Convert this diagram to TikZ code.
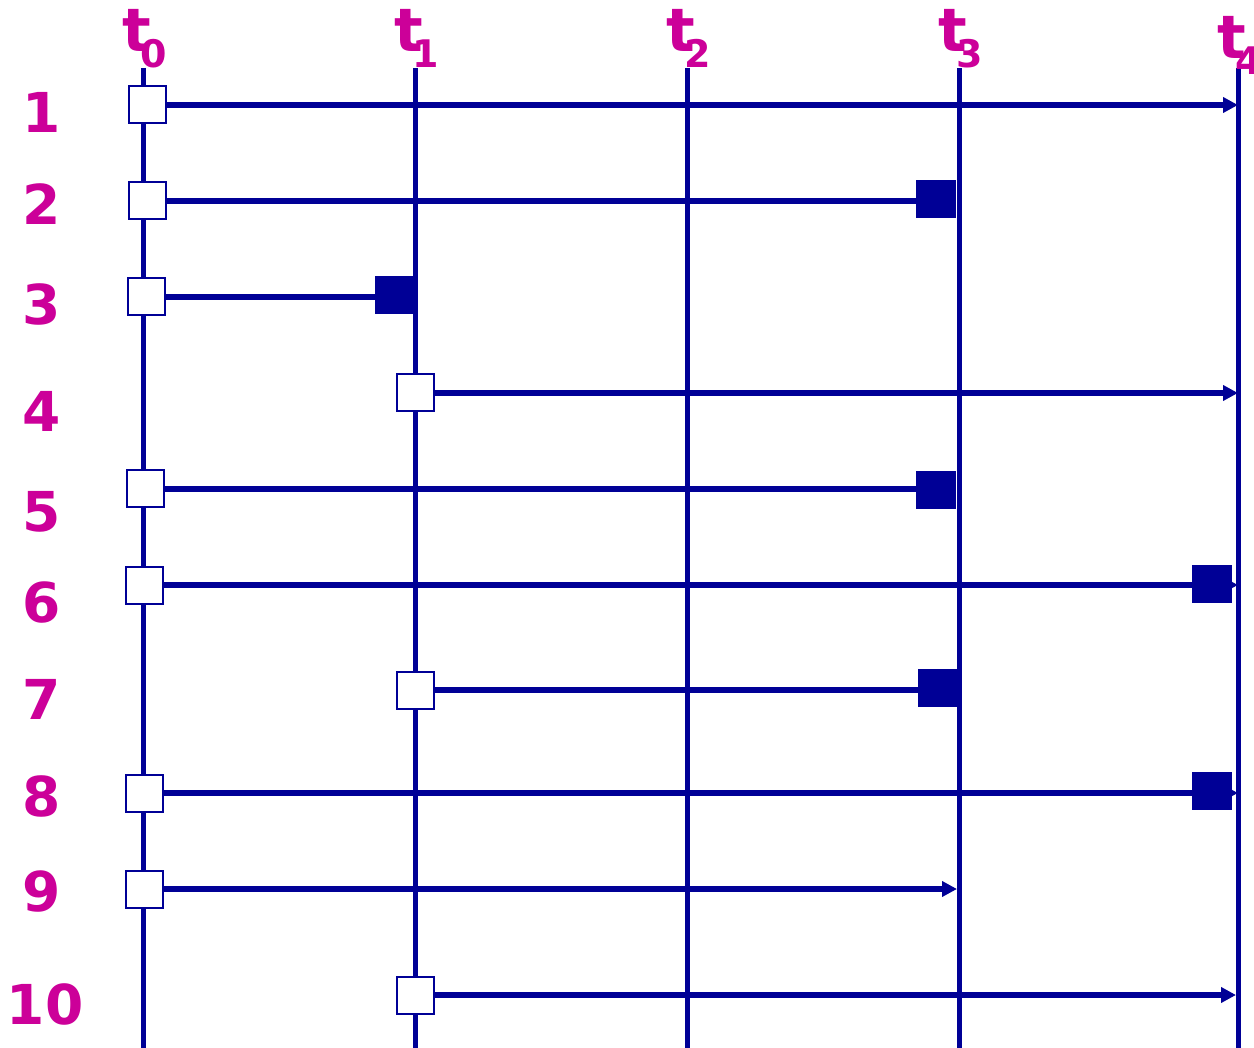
\documentclass[tikz,border=0pt]{standalone}
\usepackage{fontspec}
\setmainfont{DejaVu Sans}
\usetikzlibrary{arrows.meta}
\definecolor{navy}{RGB}{0,0,150}
\definecolor{plum}{RGB}{204,0,153}

\begin{document}
\begin{tikzpicture}[x=1pt,y=-1pt,
  tline/.style={navy,line width=5pt},
  run/.style={navy,line width=5.5pt},
  runarr/.style={run,-{Triangle[length=15pt,width=15pt]}},
  open/.style={draw=navy,fill=white,line width=2pt,minimum size=37pt,inner sep=0pt},
  done/.style={fill=navy,minimum width=40pt,minimum height=38pt,inner sep=0pt},
  rowlab/.style={plum,font=\fontsize{55}{60}\selectfont\bfseries},
  tlab/.style={plum,font=\fontsize{60}{64}\selectfont\bfseries,anchor=base,inner sep=0pt}]
\useasboundingbox (0,0) rectangle (1254,1048);
% time lines
\foreach \i/\x/\b in {0/143/52,1/415/52,2/687/52,3/959/52,4/1238/59}{
  \coordinate (top\i) at (\x,68);\coordinate (bot\i) at (\x,1048);
  \draw[tline] (top\i)--(bot\i);
  \node[tlab] (T\i) at (\x+2,\b) {t\kern-11pt\raisebox{-16pt}{\fontsize{38}{40}\selectfont\i}};}
% row numbers
\foreach \n/\y in {1/112,2/204,3/304,4/411,5/512,6/603,7/699,8/796,9/892}{\node[rowlab] (L\n) at (42,\y){\n};}
\node[rowlab] (L10) at (45,1004){10};
% start boxes
\foreach \n/\x/\y in {1/147/105,2/147/201,3/146/297,4/415/393,5/145/489,6/144/585,7/415/690,8/144/793,9/144/889,10/415/995}{\node[open] (s\n) at (\x,\y){};}
% runs that finish
\foreach \n/\x/\y in {2/936/199,3/395/295,5/936/490,7/938/688}{\node[done] (f\n) at (\x,\y){};\draw[run] (s\n.east)--(s\n.east -| f\n.west);}
% runs still going
\foreach \n/\x in {1/1238,4/1238,6/1238,8/1238,9/957,10/1236}{\coordinate (e\n) at (\x,0);\draw[runarr] (s\n.east)--(s\n.east -| e\n);}
\node[done] (f6) at (1212,584){};\node[done] (f8) at (1212,791){};
\end{tikzpicture}
\end{document}
